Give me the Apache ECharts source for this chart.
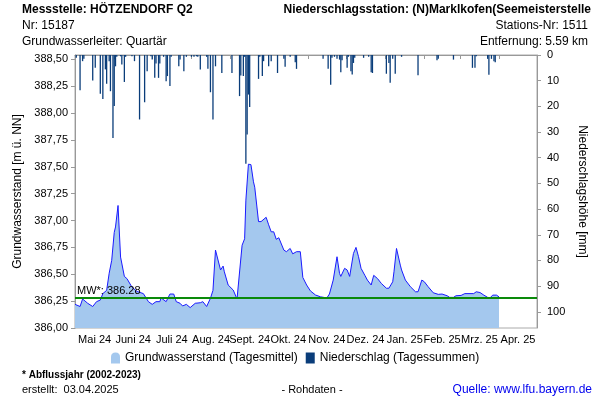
<!DOCTYPE html>
<html>
<head>
<meta charset="utf-8">
<script src="https://cdn.jsdelivr.net/npm/echarts@6/dist/echarts.min.js"></script>
<style>html,body{margin:0;padding:0;background:#fff}#c{width:600px;height:400px}</style>
</head>
<body>
<div id="c"></div>
<script>
// x positions are days since 2024-05-01
const monthLabels = ['Mai 24','Juni 24','Juli 24','Aug. 24','Sept. 24','Okt. 24','Nov. 24','Dez. 24','Jan. 25','Feb. 25','Mrz. 25','Apr. 25'];
const monthStartDays = [0,31,61,92,123,153,184,214,245,276,304,335,365];

const gwDay = [0,4,6,10,14,17,20,22,25,27,29,31,32,34,36,38,39,41,45,49,54,58,61,64,67,68,72,75,78,80,83,85,88,91,95,99,101,104,107,109,111,112,115,117,118,121,125,128,132,134,135,137,139,141,142,145,147,151,153,155,157,159,161,165,167,170,172,175,178,180,183,186,190,194,199,201,204,207,209,210,213,215,217,218,220,222,224,226,229,231,234,236,239,242,246,248,251,252,254,255,257,258,261,265,269,271,274,276,279,283,287,290,294,296,299,301,305,308,315,317,320,323,326,328,330,333,334,335];
const gwLevel = [386.22,386.20,386.27,386.23,386.20,386.245,386.26,386.32,386.35,386.51,386.63,386.89,386.94,387.14,386.66,386.54,386.48,386.46,386.38,386.34,386.32,386.245,386.22,386.245,386.245,386.28,386.245,386.316,386.316,386.245,386.23,386.205,386.22,386.19,386.23,386.235,386.245,386.20,386.276,386.35,386.725,386.71,386.54,386.576,386.523,386.40,386.353,386.27,386.77,386.83,387.19,387.524,387.52,387.36,387.31,386.99,386.99,387.03,386.96,386.895,386.895,386.825,386.84,386.725,386.71,386.74,386.69,386.71,386.71,386.47,386.40,386.345,386.307,386.29,386.28,386.316,386.446,386.663,386.508,386.48,386.555,386.54,386.48,386.49,386.694,386.75,386.663,386.555,386.49,386.446,386.40,386.49,386.46,386.415,386.37,386.37,386.43,386.523,386.74,386.725,386.585,386.54,386.446,386.384,386.337,386.337,386.446,386.43,386.384,386.328,386.313,386.316,386.30,386.285,386.285,386.30,386.303,386.32,386.32,386.337,386.33,386.306,386.285,386.282,386.306,386.306,386.313,386.29];

const precipDay = [1,4,6,7,14,16,20,22,24,25,27,28,30,31,32,33,36,37,39,40,45,47,51,55,57,60,61,63,64,66,67,70,72,73,75,76,82,83,86,88,92,94,96,97,99,104,105,107,109,111,116,124,130,131,133,134,135,136,137,138,145,146,148,149,153,155,160,165,166,170,174,175,196,200,202,203,205,207,209,210,211,215,216,218,219,220,221,228,232,234,235,246,248,249,251,253,258,271,286,287,299,314,316,317,326,327,329,331,332];
const precipMm = [1.1,13.7,2.4,1.5,9.9,5,15.1,17.1,5.6,11.2,2.4,14.1,32.3,19.9,4.4,0.7,0.5,3.7,10.5,0.7,0.5,2.4,25.1,18.4,6.3,0.5,1.8,8.9,3.3,8.9,3.3,0.7,10.2,8.2,12.1,0.7,4.4,1.8,6.3,0.7,0.7,0.7,0.5,0.7,5.6,0.7,5.4,14.5,25.1,4.4,7,7,16,8,8.2,0.7,42.3,31,15.4,20.2,9.3,0.7,8.2,2.4,4.4,2.4,7,1.5,4.6,0.7,2.8,5.4,1.5,5.4,11.6,1.1,0.7,1.5,1.8,6.7,2,5,0.7,6.3,7.6,3.1,1.1,1.1,0.7,6.7,7,7.3,3.1,10.8,1.5,7.3,0.7,7.9,2,1.5,1.8,5,5,0.5,1.5,7.7,1.5,2.4,2.8];

const meanLevel = 386.28;

const monthMids = monthLabels.map((_, i) => (monthStartDays[i] + monthStartDays[i + 1]) / 2);
const FONT = '"Liberation Sans", Arial, sans-serif';

const chart = echarts.init(document.getElementById('c'));
chart.setOption({
  animation: false,
  textStyle: { fontFamily: FONT },
  grid: { left: 75, right: 63, top: 55, bottom: 72, show: true, borderColor: '#aaa', borderWidth: 1 },
  legend: {
    left: 106, top: 347, itemWidth: 9, itemHeight: 11, itemGap: 8,
    textStyle: { fontSize: 12, color: '#000', fontFamily: FONT },
    data: [
      { name: 'Grundwasserstand (Tagesmittel)', icon: 'path://M0,12 L0,5 Q0,0 5,0 Q10,0 10,5 L10,12 Z', itemStyle: { color: '#a4c8ee' } },
      { name: 'Niederschlag (Tagessummen)', icon: 'rect', itemStyle: { color: '#0a3d7a' } }
    ]
  },
  xAxis: {
    type: 'value', min: 0, max: 365,
    axisLine: { show: true, lineStyle: { color: '#999' } },
    axisTick: { show: true, length: 4, lineStyle: { color: '#999' }, customValues: monthStartDays },
    axisLabel: {
      customValues: monthMids, fontSize: 11, color: '#000', margin: 6,
      formatter: v => { let b = 0; monthMids.forEach((m, i) => { if (Math.abs(m - v) < Math.abs(monthMids[b] - v)) b = i; }); return monthLabels[b]; }
    },
    splitLine: { show: false }
  },
  yAxis: [
    {
      type: 'value', min: 386, max: 388.54, interval: 0.25,
      name: 'Grundwasserstand [m ü. NN]', nameLocation: 'middle', nameGap: 49,
      nameTextStyle: { fontSize: 12, color: '#000' },
      axisLine: { show: true, lineStyle: { color: '#999' } },
      axisTick: { show: true, length: 4, lineStyle: { color: '#999' } },
      axisLabel: { fontSize: 11, color: '#000', margin: 7, showMaxLabel: false,
        formatter: v => (Math.abs(v * 4 - Math.round(v * 4)) < 1e-6 ? v.toFixed(2).replace('.', ',') : '') },
      splitLine: { show: false }
    },
    {
      type: 'value', min: 0, max: 106.3, interval: 10, inverse: true, position: 'right',
      name: 'Niederschlagshöhe [mm]', nameLocation: 'middle', nameGap: 36, nameRotate: -90,
      nameTextStyle: { fontSize: 12, color: '#000' },
      axisLine: { show: true, lineStyle: { color: '#999' } },
      axisTick: { show: true, length: 4, lineStyle: { color: '#999' } },
      axisLabel: { fontSize: 11, color: '#000', margin: 10, showMaxLabel: false,
        formatter: v => (v % 10 === 0 ? String(v) : '') },
      splitLine: { show: false }
    }
  ],
  series: [
    {
      name: 'Grundwasserstand (Tagesmittel)', type: 'line', yAxisIndex: 0,
      data: gwDay.map((d, i) => [d, gwLevel[i]]),
      symbol: 'none', lineStyle: { color: '#1a1aff', width: 1 },
      itemStyle: { color: '#a4c8ee' },
      areaStyle: { color: '#a4c8ee', opacity: 1, origin: 'start' },
      z: 2,
      markLine: {
        silent: true, symbol: 'none',
        lineStyle: { color: '#0a8a0a', width: 2, type: 'solid' },
        label: { show: true, position: 'insideStartTop', formatter: 'MW*: ' + meanLevel.toFixed(2), color: '#000', fontSize: 11, distance: [2, 1] },
        data: [{ yAxis: meanLevel }]
      }
    },
    {
      name: 'Niederschlag (Tagessummen)', type: 'bar', yAxisIndex: 1,
      data: precipDay.map((d, i) => [d, precipMm[i]]),
      barWidth: 1.3, itemStyle: { color: '#0a3d7a' }, z: 3
    }
  ],
  graphic: [
    { type: 'text', style: { x: 22, y: 10, text: 'Messstelle: HÖTZENDORF Q2', font: 'bold 12px ' + FONT, fill: '#000', verticalAlign: 'middle' } },
    { type: 'text', style: { x: 22, y: 26, text: 'Nr: 15187', font: '12px ' + FONT, fill: '#000', verticalAlign: 'middle' } },
    { type: 'text', style: { x: 22, y: 42, text: 'Grundwasserleiter: Quartär', font: '12px ' + FONT, fill: '#000', verticalAlign: 'middle' } },
    { type: 'text', style: { x: 591, y: 10, text: 'Niederschlagsstation: (N)Marklkofen(Seemeisterstelle', font: 'bold 12px ' + FONT, fill: '#000', align: 'right', verticalAlign: 'middle' } },
    { type: 'text', style: { x: 588, y: 26, text: 'Stations-Nr: 1511', font: '12px ' + FONT, fill: '#000', align: 'right', verticalAlign: 'middle' } },
    { type: 'text', style: { x: 588, y: 42, text: 'Entfernung: 5.59 km', font: '12px ' + FONT, fill: '#000', align: 'right', verticalAlign: 'middle' } },
    { type: 'text', style: { x: 22, y: 375, text: '* Abflussjahr (2002-2023)', font: 'bold 10px ' + FONT, fill: '#000', verticalAlign: 'middle' } },
    { type: 'text', style: { x: 22, y: 390, text: 'erstellt:  03.04.2025', font: '11px ' + FONT, fill: '#000', verticalAlign: 'middle' } },
    { type: 'text', style: { x: 312, y: 390, text: '- Rohdaten -', font: '11px ' + FONT, fill: '#000', align: 'center', verticalAlign: 'middle' } },
    { type: 'text', style: { x: 592, y: 390, text: 'Quelle: www.lfu.bayern.de', font: '12px ' + FONT, fill: '#0000ee', align: 'right', verticalAlign: 'middle' } }
  ]
});
</script>
</body>
</html>
